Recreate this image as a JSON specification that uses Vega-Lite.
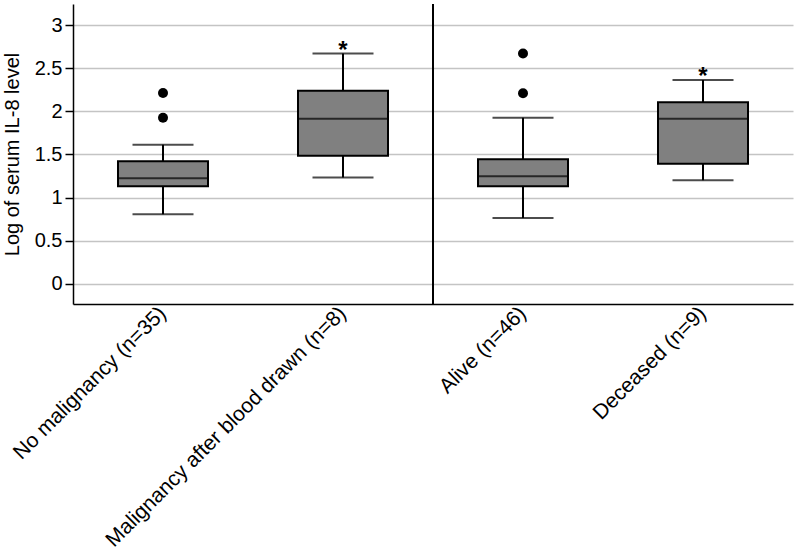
{
  "$schema": "https://vega.github.io/schema/vega-lite/v6.json",
  "width": 720,
  "height": 300,
  "autosize": {"type": "none"},
  "padding": {"left": 73, "top": 4, "right": 7, "bottom": 253},
  "config": {
    "font": "Liberation Sans",
    "view": {"stroke": null},
    "axis": {"labelColor": "black", "titleColor": "black", "labelFont": "Liberation Sans", "titleFont": "Liberation Sans"},
    "axisX": {"labelFontSize": 21, "labelAngle": -45, "labelAlign": "right", "labelBaseline": "middle", "labelLimit": 1000, "ticks": false, "labelPadding": 6, "domainColor": "black", "domainWidth": 1.5, "grid": false},
    "axisY": {"labelFontSize": 20, "titleFontSize": 20, "titleFontWeight": "normal", "titlePadding": 12, "grid": true, "gridColor": "#c4c4c4", "gridWidth": 1.5, "domainColor": "black", "domainWidth": 1.5, "tickColor": "black", "tickWidth": 1.5, "tickSize": 8, "labelPadding": 3}
  },
  "datasets": {
    "boxes": [
      {"group": "No malignancy (n=35)", "lower": 0.806, "q1": 1.131, "median": 1.225, "q3": 1.422, "upper": 1.613, "sig": ""},
      {"group": "Malignancy after blood drawn (n=8)", "lower": 1.233, "q1": 1.485, "median": 1.915, "q3": 2.24, "upper": 2.67, "sig": "*"},
      {"group": "Alive (n=46)", "lower": 0.764, "q1": 1.131, "median": 1.248, "q3": 1.445, "upper": 1.926, "sig": ""},
      {"group": "Deceased (n=9)", "lower": 1.201, "q1": 1.392, "median": 1.915, "q3": 2.105, "upper": 2.364, "sig": "*"}
    ],
    "outliers": [
      {"group": "No malignancy (n=35)", "value": 2.213},
      {"group": "No malignancy (n=35)", "value": 1.926},
      {"group": "Alive (n=46)", "value": 2.67},
      {"group": "Alive (n=46)", "value": 2.209}
    ],
    "divider": [
      {"group": "Alive (n=46)"}
    ]
  },
  "encoding": {
    "x": {
      "field": "group",
      "type": "nominal",
      "sort": ["No malignancy (n=35)", "Malignancy after blood drawn (n=8)", "Alive (n=46)", "Deceased (n=9)"],
      "scale": {"type": "band", "domain": ["No malignancy (n=35)", "Malignancy after blood drawn (n=8)", "Alive (n=46)", "Deceased (n=9)"], "paddingInner": 0, "paddingOuter": 0},
      "axis": {"title": null}
    }
  },
  "layer": [
    {
      "data": {"name": "divider"},
      "mark": {"type": "rule", "color": "black", "strokeWidth": 2},
      "encoding": {
        "x": {"field": "group", "type": "nominal", "bandPosition": 0}
      }
    },
    {
      "data": {"name": "boxes"},
      "mark": {"type": "rule", "color": "black", "strokeWidth": 2},
      "encoding": {
        "y": {
          "field": "lower",
          "type": "quantitative",
          "scale": {"domain": [-0.233, 3.244], "nice": false, "zero": false},
          "axis": {
            "title": "Log of serum IL-8 level",
            "values": [0, 0.5, 1, 1.5, 2, 2.5, 3],
            "format": ".1~f"
          }
        },
        "y2": {"field": "upper"}
      }
    },
    {
      "data": {"name": "boxes"},
      "mark": {"type": "bar", "fill": "#808080", "stroke": "black", "strokeWidth": 2, "width": {"band": 0.5}},
      "encoding": {
        "y": {"field": "q1", "type": "quantitative"},
        "y2": {"field": "q3"}
      }
    },
    {
      "data": {"name": "boxes"},
      "mark": {"type": "tick", "color": "black", "size": 90, "thickness": 2},
      "encoding": {
        "y": {"field": "median", "type": "quantitative"}
      }
    },
    {
      "data": {"name": "boxes"},
      "mark": {"type": "tick", "color": "black", "size": 61, "thickness": 2},
      "encoding": {
        "y": {"field": "lower", "type": "quantitative"}
      }
    },
    {
      "data": {"name": "boxes"},
      "mark": {"type": "tick", "color": "black", "size": 61, "thickness": 2},
      "encoding": {
        "y": {"field": "upper", "type": "quantitative"}
      }
    },
    {
      "data": {"name": "outliers"},
      "mark": {"type": "circle", "color": "black", "opacity": 1, "size": 100},
      "encoding": {
        "y": {"field": "value", "type": "quantitative"}
      }
    },
    {
      "data": {"name": "boxes"},
      "transform": [{"filter": "datum.sig != ''"}],
      "mark": {"type": "text", "color": "black", "fontSize": 24, "fontWeight": "bold", "baseline": "alphabetic", "dy": 4},
      "encoding": {
        "y": {"field": "upper", "type": "quantitative"},
        "text": {"field": "sig"}
      }
    }
  ]
}
